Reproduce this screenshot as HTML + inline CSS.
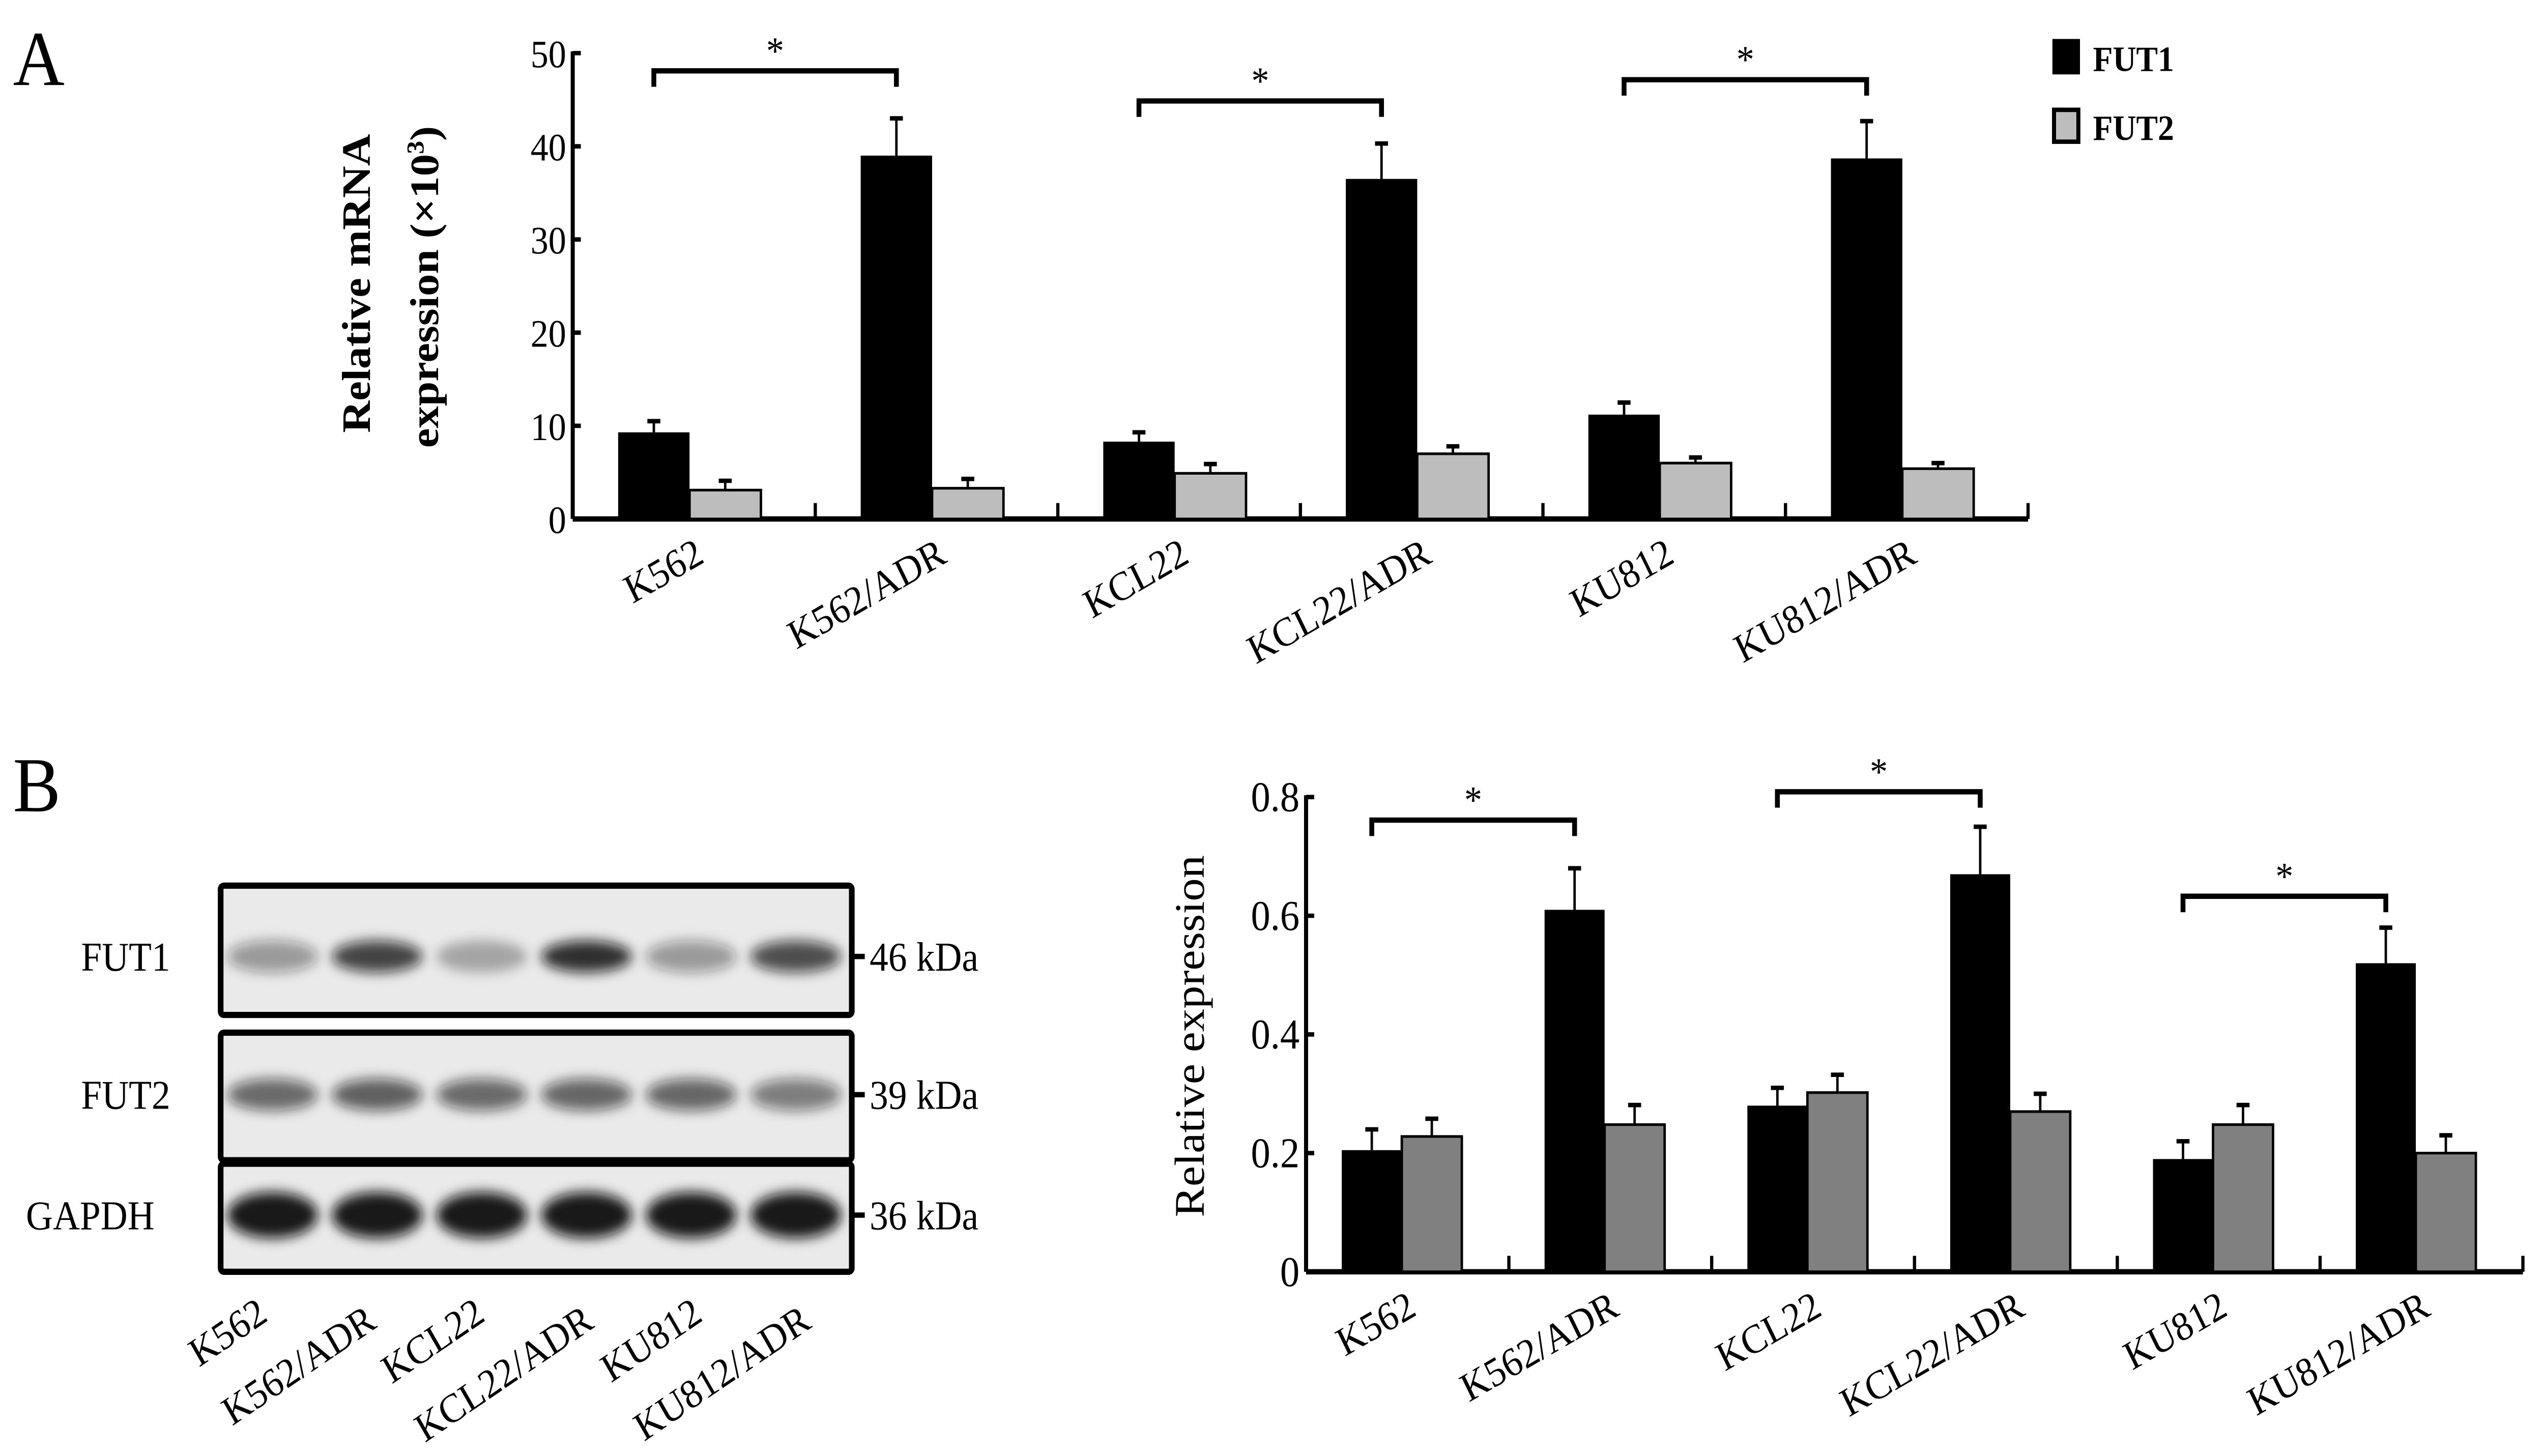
<!DOCTYPE html>
<html><head><meta charset="utf-8"><style>
html,body{margin:0;padding:0;background:#fff;overflow:hidden;}
#wrap{position:absolute;left:0;top:0;width:100vw;height:100vh;overflow:hidden;}
svg{position:absolute;left:0;top:0;width:100%;height:100%;}
text{font-family:"Liberation Serif",serif;fill:#000;}
</style></head><body>
<div id="wrap">
<svg id="fig" viewBox="0 0 1568 822" preserveAspectRatio="none" xmlns="http://www.w3.org/2000/svg">
<defs><filter id="blur" x="-50%" y="-50%" width="200%" height="200%"><feGaussianBlur stdDeviation="3.5"/></filter></defs>
<g>
<text x="8" y="48" font-size="44">A</text>
<text x="8" y="458" font-size="44">B</text>
<g id="chartA"></g>
<g id="chartB"></g>
<g id="blot"></g>
</g>
</svg>
</div>
<script>
const categories = ["K562","K562/ADR","KCL22","KCL22/ADR","KU812","KU812/ADR"];
const aFut1 = [9.3, 39.0, 8.3, 36.5, 11.2, 38.7];
const aFut1Err = [1.2, 4.0, 1.0, 3.8, 1.3, 4.0];
const aFut2 = [3.1, 3.3, 4.9, 7.0, 6.0, 5.4];
const aFut2Err = [1.0, 1.0, 1.0, 0.8, 0.6, 0.6];
const aTicks = [0,10,20,30,40,50];
const bFut1 = [0.205, 0.61, 0.28, 0.67, 0.19, 0.52];
const bFut1Err = [0.035, 0.07, 0.03, 0.08, 0.03, 0.06];
const bFut2 = [0.228, 0.248, 0.302, 0.27, 0.248, 0.2];
const bFut2Err = [0.03, 0.033, 0.03, 0.03, 0.033, 0.03];
const bTicks = ["0","0.2","0.4","0.6","0.8"];
const blotRows = ["FUT1","FUT2","GAPDH"];
const blotKda = ["46 kDa","39 kDa","36 kDa"];
const fut1Band = [0.45, 0.9, 0.35, 1.0, 0.45, 0.85];
const fut2Band = [0.7, 0.75, 0.7, 0.72, 0.72, 0.6];
const gapdhBand = [1,1,1,1,1,1];

const NS="http://www.w3.org/2000/svg";
function mk(tag,attrs,parent,txt){const e=document.createElementNS(NS,tag);for(const k in attrs)e.setAttribute(k,attrs[k]);if(txt!==undefined)e.textContent=txt;parent.appendChild(e);return e;}

function barChart(g,cfg){
  const {x0,x1,y0,yTop,vmax,gw,off,bw,f1,f1e,f2,f2e,ticks,tickVals,fut2Color,brackets} = cfg;
  const y=v=>y0-(v/vmax)*(y0-yTop);
  const gx=i=>x0+i*gw;
  let ax=mk('line',{x1:x0,y1:yTop-1,x2:x0,y2:y0,stroke:'#000','stroke-width':2.5},g);
  
  let bx=mk('line',{x1:x0,y1:y0,x2:x1,y2:y0,stroke:'#000','stroke-width':3},g);
  
  ticks.forEach((t,i)=>{
    const yy=y(tickVals[i]);
    mk('line',{x1:x0,y1:yy,x2:x0+5,y2:yy,stroke:'#000','stroke-width':2.5},g);
    const tt=mk('text',{x:x0-4,y:yy+8,'font-size':cfg.tickFs,'text-anchor':'end'},g,t);
    
  });
  for(let i=1;i<=categories.length;i++){mk('line',{x1:gx(i),y1:y0,x2:gx(i),y2:y0-9,stroke:'#000','stroke-width':2},g);}
  categories.forEach((c,i)=>{
    const bl=gx(i)+off;
    [[f1,f1e,'#000'],[f2,f2e,fut2Color]].forEach((s,k)=>{
      const v=s[0][i],e=s[1][i],xl=bl+k*bw,cx=xl+bw/2;
      mk('line',{x1:cx,y1:y(v),x2:cx,y2:y(v+e),stroke:'#000','stroke-width':1.5},g);
      mk('line',{x1:cx-4,y1:y(v+e),x2:cx+4,y2:y(v+e),stroke:'#000','stroke-width':2.5},g);
      const r=mk('rect',{x:xl,y:y(v),width:bw,height:y0-y(v),fill:s[2],stroke:'#000','stroke-width':k?1.5:0},g);
      
      
    });
    const lx=gx(i)+off+bw+10, ly=y0+cfg.labDy;
    const t=mk('text',{x:lx,y:ly,'font-size':cfg.labFs,'text-anchor':'end',transform:`rotate(-28 ${lx} ${ly})`},g,c);
    
  });
  brackets.forEach(b=>{
    const xa=gx(b.g)+off+bw/2, xb=gx(b.g+1)+off+bw/2;
    const p=mk('path',{d:`M${xa} ${b.y+9} V${b.y} H${xb} V${b.y+9}`,fill:'none',stroke:'#000','stroke-width':3},g);
    
    const s=mk('text',{x:(xa+xb)/2,y:b.y-4,'font-size':22,'text-anchor':'middle'},g,'*');
    
  });
  return y;
}

const gA=document.getElementById('chartA');
barChart(gA,{x0:353,x1:1250,y0:293,yTop:30,vmax:50,gw:149.5,off:28,bw:44,f1:aFut1,f1e:aFut1Err,f2:aFut2,f2e:aFut2Err,
  ticks:aTicks.map(String),tickVals:aTicks,fut2Color:'#bdbdbd',tickFs:22,labFs:23,labDy:24,
  brackets:[{g:0,y:40},{g:2,y:57},{g:4,y:45}]});
let t1=mk('text',{x:228,y:160,'font-size':25,'font-weight':'bold','text-anchor':'middle',transform:'rotate(-90 228 160)'},gA,'Relative mRNA');

let t2=mk('text',{x:270,y:162,'font-size':25,'font-weight':'bold','text-anchor':'middle',transform:'rotate(-90 270 162)'},gA);

t2.innerHTML='expression (×10<tspan font-size="15" dy="-9">3</tspan><tspan dy="9">)</tspan>';
let lg=mk('g',{},gA);
mk('rect',{x:1265,y:22,width:17,height:20,fill:'#000'},lg);
mk('text',{x:1290,y:40,'font-size':20,'font-weight':'bold'},lg,'FUT1');
mk('rect',{x:1266,y:62,width:15,height:18,fill:'#bdbdbd',stroke:'#000','stroke-width':2.5},lg);
mk('text',{x:1290,y:79,'font-size':20,'font-weight':'bold'},lg,'FUT2');

const gB=document.getElementById('chartB');
barChart(gB,{x0:805,x1:1555,y0:718,yTop:450,vmax:0.8,gw:125,off:22,bw:37,f1:bFut1,f1e:bFut1Err,f2:bFut2,f2e:bFut2Err,
  ticks:bTicks,tickVals:bTicks.map(Number),fut2Color:'#808080',tickFs:24,labFs:23,labDy:24,
  brackets:[{g:0,y:463},{g:2,y:447},{g:4,y:506}]});
let t3=mk('text',{x:742,y:585,'font-size':26,'text-anchor':'middle',transform:'rotate(-90 742 585)'},gB,'Relative expression');


const gW=document.getElementById('blot');
const boxes=[[500,573],[583,655],[657,718]];
const bands=[fut1Band,fut2Band,gapdhBand];
const bandY=[540,618,686];
boxes.forEach((bb,r)=>{
  const rr=mk('rect',{x:136,y:bb[0],width:389,height:bb[1]-bb[0],fill:'#eaeaea',stroke:'#000','stroke-width':3.5,rx:2},gW);
  
  bands[r].forEach((v,i)=>{
    const cx=168+i*64.5;
    mk('ellipse',{cx:cx,cy:bandY[r],rx:28,ry:r==2?13:9,fill:'#111','fill-opacity':(r==2?0.95:0.85*v),filter:'url(#blur)'},gW);
  });
  const lt=mk('text',{x:r==2?16:50,y:bandY[r]+8,'font-size':23},gW,blotRows[r]);
  
  mk('line',{x1:525,y1:bandY[r],x2:533,y2:bandY[r],stroke:'#000','stroke-width':3},gW);
  const kt=mk('text',{x:536,y:bandY[r]+8,'font-size':23},gW,blotKda[r]);
  
});
categories.forEach((c,i)=>{
  const lx=166+i*67, ly=745+(i%2)*4;
  const t=mk('text',{x:lx,y:ly,'font-size':23,'text-anchor':'end',transform:`rotate(-32 ${lx} ${ly})`},gW,c);
  
});
</script>
</body></html>
